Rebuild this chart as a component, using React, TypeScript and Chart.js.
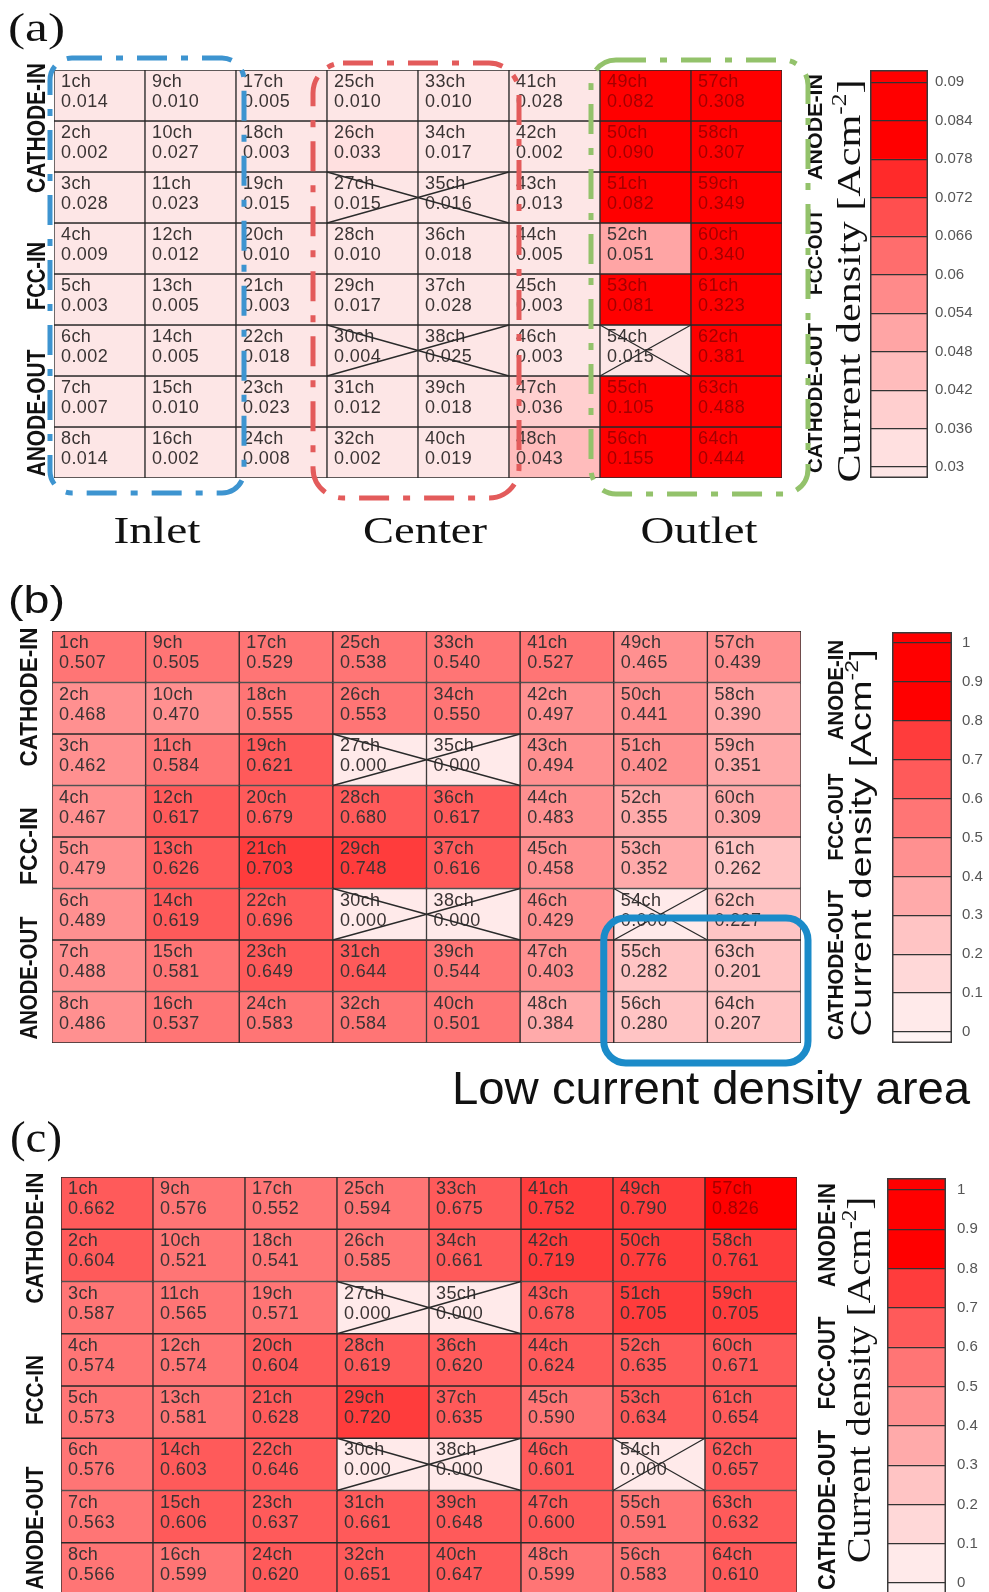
import React, { useEffect, useRef } from "react";
import { Chart, registerables } from "chart.js";

Chart.register(...registerables);

// ---------------- data ----------------
const columns = ["1-8ch", "9-16ch", "17-24ch", "25-32ch", "33-40ch", "41-48ch", "49-56ch", "57-64ch"];
const rowsPerColumn = 8;

// values in channel order 1ch..64ch
const valuesA = [
  0.014, 0.002, 0.028, 0.009, 0.003, 0.002, 0.007, 0.014,
  0.010, 0.027, 0.023, 0.012, 0.005, 0.005, 0.010, 0.002,
  0.005, 0.003, 0.015, 0.010, 0.003, 0.018, 0.023, 0.008,
  0.010, 0.033, 0.015, 0.010, 0.017, 0.004, 0.012, 0.002,
  0.010, 0.017, 0.016, 0.018, 0.028, 0.025, 0.018, 0.019,
  0.028, 0.002, 0.013, 0.005, 0.003, 0.003, 0.036, 0.043,
  0.082, 0.090, 0.082, 0.051, 0.081, 0.015, 0.105, 0.155,
  0.308, 0.307, 0.349, 0.340, 0.323, 0.381, 0.488, 0.444,
];
const valuesB = [
  0.507, 0.468, 0.462, 0.467, 0.479, 0.489, 0.488, 0.486,
  0.505, 0.470, 0.584, 0.617, 0.626, 0.619, 0.581, 0.537,
  0.529, 0.555, 0.621, 0.679, 0.703, 0.696, 0.649, 0.583,
  0.538, 0.553, 0.000, 0.680, 0.748, 0.000, 0.644, 0.584,
  0.540, 0.550, 0.000, 0.617, 0.616, 0.000, 0.544, 0.501,
  0.527, 0.497, 0.494, 0.483, 0.458, 0.429, 0.403, 0.384,
  0.465, 0.441, 0.402, 0.355, 0.352, 0.000, 0.282, 0.280,
  0.439, 0.390, 0.351, 0.309, 0.262, 0.227, 0.201, 0.207,
];
const valuesC = [
  0.662, 0.604, 0.587, 0.574, 0.573, 0.576, 0.563, 0.566,
  0.576, 0.521, 0.565, 0.574, 0.581, 0.603, 0.606, 0.599,
  0.552, 0.541, 0.571, 0.604, 0.628, 0.646, 0.637, 0.620,
  0.594, 0.585, 0.000, 0.619, 0.720, 0.000, 0.661, 0.651,
  0.675, 0.661, 0.000, 0.620, 0.635, 0.000, 0.648, 0.647,
  0.752, 0.719, 0.678, 0.624, 0.590, 0.601, 0.600, 0.599,
  0.790, 0.776, 0.705, 0.635, 0.634, 0.000, 0.591, 0.583,
  0.826, 0.761, 0.705, 0.671, 0.654, 0.657, 0.632, 0.610,
];
// channels that are crossed out (groups share one X)
const crossedChannels = [[27, 35], [30, 38], [54]];

// colour scales
const ticksA = [0.03, 0.036, 0.042, 0.048, 0.054, 0.06, 0.066, 0.072, 0.078, 0.084, 0.09];
const tickLabelsA = ["0.03", "0.036", "0.042", "0.048", "0.054", "0.06", "0.066", "0.072", "0.078", "0.084", "0.09"];
const rangeA = [0.0283, 0.0919];
const colorsA = ["#fde6e6", "#ffe0e0", "#ffcfcf", "#ffbcbc", "#ffa5a5", "#ff8a8a", "#ff6d6d", "#ff4f4f", "#ff2a2a", "#ff0000", "#ff0000", "#ff0000"];

const ticksBC = [0, 0.1, 0.2, 0.3, 0.4, 0.5, 0.6, 0.7, 0.8, 0.9, 1];
const tickLabelsBC = ["0", "0.1", "0.2", "0.3", "0.4", "0.5", "0.6", "0.7", "0.8", "0.9", "1"];
const rangeB = [-0.0283, 1.0283];
const rangeC = [-0.0305, 1.0305];
const colorsBC = ["#fff4f4", "#ffeaea", "#ffd8d8", "#ffc4c4", "#ffaaaa", "#ff9090", "#ff7575", "#ff5a5a", "#ff3c3c", "#ff0000", "#ff0000", "#ff0000"];

const leftLabels = ["CATHODE-IN", "FCC-IN", "ANODE-OUT"];
const rightLabels = ["ANODE-IN", "FCC-OUT", "CATHODE-OUT"];
const regionLabels = ["Inlet", "Center", "Outlet"];
const panelLetters = ["(a)", "(b)", "(c)"];
const titleParts = ["Current density [Acm", "-2", "]"];
const lowAreaLabel = "Low current density area";

// ---------------- helpers ----------------
const SANS = '"Liberation Sans", Arial, sans-serif';
const SERIF = '"Liberation Serif", "Times New Roman", serif';

function colorFor(v: number, ticks: number[], colors: string[]) {
  let i = 0;
  while (i < ticks.length && v >= ticks[i] - 1e-9) i++;
  return colors[i];
}

function drawStretched(ctx: any, text: string, x: number, baseline: number, width: number, font: string, color: string) {
  ctx.save();
  ctx.font = font;
  ctx.fillStyle = color;
  ctx.textAlign = "left";
  ctx.textBaseline = "alphabetic";
  const w = ctx.measureText(text).width;
  ctx.translate(x, baseline);
  ctx.scale(width / w, 1);
  ctx.fillText(text, 0, 0);
  ctx.restore();
}

function drawRotated(ctx: any, parts: { text: string; scale?: number; rise?: number }[], baseX: number, centerY: number, length: number, family: string, size: number, weight: string, color: string) {
  ctx.save();
  ctx.translate(baseX, centerY);
  ctx.rotate(-Math.PI / 2);
  ctx.fillStyle = color;
  ctx.textAlign = "left";
  ctx.textBaseline = "alphabetic";
  const fonts = parts.map((p) => `${weight} ${Math.round(size * (p.scale ?? 1))}px ${family}`);
  const widths = parts.map((p, i) => {
    ctx.font = fonts[i];
    return ctx.measureText(p.text).width;
  });
  const total = widths.reduce((a, b) => a + b, 0);
  ctx.scale(length / total, 1);
  let x = -total / 2;
  parts.forEach((p, i) => {
    ctx.font = fonts[i];
    ctx.fillText(p.text, x, -(p.rise ?? 0) * size);
    x += widths[i];
  });
  ctx.restore();
}

function roundRectPath(ctx: any, x0: number, y0: number, x1: number, y1: number, r: number) {
  ctx.beginPath();
  ctx.moveTo(x0 + r, y0);
  ctx.lineTo(x1 - r, y0);
  ctx.arcTo(x1, y0, x1, y0 + r, r);
  ctx.lineTo(x1, y1 - r);
  ctx.arcTo(x1, y1, x1 - r, y1, r);
  ctx.lineTo(x0 + r, y1);
  ctx.arcTo(x0, y1, x0, y1 - r, r);
  ctx.lineTo(x0, y0 + r);
  ctx.arcTo(x0, y0, x0 + r, y0, r);
  ctx.closePath();
}

function strokeBox(ctx: any, x0: number, y0: number, x1: number, y1: number, r: number, color: string, lw: number, dash: number[]) {
  ctx.save();
  ctx.strokeStyle = color;
  ctx.lineWidth = lw;
  ctx.setLineDash(dash);
  ctx.lineCap = "butt";
  roundRectPath(ctx, x0, y0, x1, y1, r);
  ctx.stroke();
  ctx.restore();
}

function cellRect(chart: any, r: number, c: number) {
  const el = chart.getDatasetMeta(r).data[c];
  const p = el.getProps(["x", "y", "base", "width"], true);
  return { l: p.x - p.width / 2, r: p.x + p.width / 2, t: Math.min(p.y, p.base), b: Math.max(p.y, p.base) };
}

function sideLabels(ctx: any, top: number, s: any) {
  leftLabels.forEach((t, i) =>
    drawRotated(ctx, [{ text: t }], s.leftX, s.leftY[i] - top, s.leftLen[i], SANS, s.leftSize, "bold", "#111")
  );
  rightLabels.forEach((t, i) =>
    drawRotated(ctx, [{ text: t }], s.rightX, s.rightY[i] - top, s.rightLen[i], SANS, s.rightSize, "bold", "#111")
  );
}

// ---------------- panel layouts ----------------
const panels = [
  {
    key: "a",
    top: 0,
    height: 560,
    values: valuesA,
    ticks: ticksA,
    tickLabels: tickLabelsA,
    colors: colorsA,
    range: rangeA,
    grid: { l: 54, t: 70, r: 782, b: 478 },
    cb: { l: 870, t: 70, w: 58, h: 408, pad: 7 },
    decorate(ctx: any, chart: any) {
      const top = 0;
      drawStretched(ctx, panelLetters[0], 8, 41, 57, `40px ${SERIF}`, "#111");
      sideLabels(ctx, top, {
        leftX: 45, leftY: [128, 276, 413], leftLen: [130, 68, 127], leftSize: 26,
        rightX: 822, rightY: [127, 252, 398], rightLen: [106, 86, 150], rightSize: 20,
      });
      drawRotated(ctx, [{ text: titleParts[0] }, { text: titleParts[1], scale: 0.6, rise: 0.42 }, { text: titleParts[2] }], 860, 281, 403, SERIF, 33, "normal", "#111");
      const xs = [157, 425, 699];
      const ws = [87, 124, 117];
      regionLabels.forEach((t, i) => {
        drawStretched(ctx, t, xs[i] - ws[i] / 2, 543, ws[i], `38px ${SERIF}`, "#111");
      });
      const gt = cellRect(chart, 0, 0).t;
      const gb = cellRect(chart, rowsPerColumn - 1, 0).b;
      const dash = [30, 14, 7, 14];
      strokeBox(ctx, cellRect(chart, 0, 0).l - 4, gt - 12, cellRect(chart, 0, 2).l + 8, gb + 15, 22, "#3d94d0", 5, dash);
      strokeBox(ctx, cellRect(chart, 0, 3).l - 14, gt - 7, cellRect(chart, 0, 5).l + 10, gb + 20, 30, "#e35b5b", 5, dash);
      strokeBox(ctx, cellRect(chart, 0, 6).l - 9, gt - 10, cellRect(chart, 0, 7).r + 26, gb + 16, 25, "#93c26b", 5, dash);
    },
  },
  {
    key: "b",
    top: 560,
    height: 560,
    values: valuesB,
    ticks: ticksBC,
    tickLabels: tickLabelsBC,
    colors: colorsBC,
    range: rangeB,
    grid: { l: 52, t: 631, r: 801, b: 1043 },
    cb: { l: 892, t: 632, w: 60, h: 411, pad: 10 },
    decorate(ctx: any, chart: any) {
      const top = 560;
      drawStretched(ctx, panelLetters[1], 8, 613 - top, 57, `38px ${SANS}`, "#111");
      sideLabels(ctx, top, {
        leftX: 37, leftY: [697, 846, 978], leftLen: [139, 78, 123], leftSize: 24,
        rightX: 843, rightY: [690, 817, 965], rightLen: [100, 87, 150], rightSize: 22,
      });
      drawRotated(ctx, [{ text: titleParts[0] }, { text: titleParts[1], scale: 0.6, rise: 0.42 }, { text: titleParts[2] }], 871, 843 - top, 387, SANS, 30, "normal", "#111");
      const a = cellRect(chart, 6, 6);
      const b = cellRect(chart, 7, 7);
      strokeBox(ctx, a.l - 10, a.t - 22, b.r + 7, b.b + 20, 22, "#1b8bc9", 7, []);
      drawStretched(ctx, lowAreaLabel, 452, 1104 - top, 518, `47px ${SANS}`, "#111");
    },
  },
  {
    key: "c",
    top: 1100,
    height: 500,
    values: valuesC,
    ticks: ticksBC,
    tickLabels: tickLabelsBC,
    colors: colorsBC,
    range: rangeC,
    grid: { l: 61, t: 1177, r: 797, b: 1595 },
    cb: { l: 887, t: 1178, w: 59, h: 417, pad: 11 },
    decorate(ctx: any, chart: any) {
      const top = 1100;
      drawStretched(ctx, panelLetters[2], 10, 1152 - top, 52, `44px ${SERIF}`, "#111");
      sideLabels(ctx, top, {
        leftX: 43, leftY: [1238, 1390, 1528], leftLen: [131, 70, 123], leftSize: 23,
        rightX: 835, rightY: [1235, 1363, 1510], rightLen: [104, 93, 160], rightSize: 23,
      });
      drawRotated(ctx, [{ text: titleParts[0] }, { text: titleParts[1], scale: 0.6, rise: 0.42 }, { text: titleParts[2] }], 870, 1380 - top, 366, SERIF, 33, "normal", "#111");
      void chart;
    },
  },
];

const AXIS_W = 60;
const CB_MARGIN = 30;

function HeatPanel({ cfg }: { cfg: any }) {
  const gridRef = useRef<HTMLCanvasElement | null>(null);
  const barRef = useRef<HTMLCanvasElement | null>(null);

  useEffect(() => {
    const { values, ticks, colors, tickLabels, range } = cfg;
    const cellColor = (ch: number) => colorFor(values[ch - 1], ticks, colors);

    const datasets = Array.from({ length: rowsPerColumn }, (_, r) => ({
      label: `row ${r + 1}`,
      data: columns.map(() => 1),
      backgroundColor: columns.map((_, c) => cellColor(c * rowsPerColumn + r + 1)),
      borderColor: "#2a2a2a",
      borderWidth: 1,
      borderSkipped: false,
      barPercentage: 1,
      categoryPercentage: 1,
    }));

    const cellPlugin = {
      id: "cells" + cfg.key,
      afterDatasetsDraw(chart: any) {
        const ctx = chart.ctx;
        ctx.save();
        ctx.font = `18px ${SANS}`;
        (ctx as any).letterSpacing = "0.4px";
        ctx.textAlign = "left";
        ctx.textBaseline = "alphabetic";
        for (let c = 0; c < columns.length; c++) {
          for (let r = 0; r < rowsPerColumn; r++) {
            const ch = c * rowsPerColumn + r + 1;
            const rc = cellRect(chart, r, c);
            const col = cellColor(ch);
            ctx.fillStyle = col === "#ff0000" ? "#a40000" : "#3a3434";
            ctx.fillText(`${ch}ch`, rc.l + 7, rc.t + 17);
            ctx.fillText(values[ch - 1].toFixed(3), rc.l + 7, rc.t + 37);
          }
        }
        (ctx as any).letterSpacing = "0px";
        ctx.strokeStyle = "#2a2a2a";
        ctx.lineWidth = 1.3;
        crossedChannels.forEach((group) => {
          const rects = group.map((ch) => {
            const c = Math.floor((ch - 1) / rowsPerColumn);
            const r = (ch - 1) % rowsPerColumn;
            return cellRect(chart, r, c);
          });
          const l = Math.min(...rects.map((q) => q.l));
          const rr = Math.max(...rects.map((q) => q.r));
          const t = Math.min(...rects.map((q) => q.t));
          const b = Math.max(...rects.map((q) => q.b));
          ctx.beginPath();
          ctx.moveTo(l, t);
          ctx.lineTo(rr, b);
          ctx.moveTo(l, b);
          ctx.lineTo(rr, t);
          ctx.stroke();
        });
        ctx.restore();
      },
      afterDraw(chart: any) {
        cfg.decorate(chart.ctx, chart);
      },
    };

    const g = cfg.grid;
    const grid = new Chart(gridRef.current as HTMLCanvasElement, {
      type: "bar",
      data: { labels: columns, datasets: datasets as any },
      options: {
        responsive: false,
        animation: false,
        devicePixelRatio: 1,
        layout: { padding: { left: g.l, top: g.t - cfg.top, right: 989 - g.r, bottom: cfg.top + cfg.height - g.b } },
        plugins: { legend: { display: false }, tooltip: { enabled: false } },
        scales: {
          x: { display: false, stacked: true },
          y: { display: false, stacked: true, reverse: true, min: 0, max: rowsPerColumn },
        },
      } as any,
      plugins: [cellPlugin],
    });

    const bandDatasets = colors.map((color: string, k: number) => ({
      label: `band ${k}`,
      data: [[k === 0 ? range[0] : ticks[k - 1], k === colors.length - 1 ? range[1] : ticks[k]]],
      backgroundColor: color,
      borderWidth: 0,
      grouped: false,
      barPercentage: 1,
      categoryPercentage: 1,
    }));

    const outlinePlugin = {
      id: "outline" + cfg.key,
      afterDraw(chart: any) {
        const { left, top, right, bottom } = chart.chartArea;
        const ctx = chart.ctx;
        ctx.save();
        ctx.strokeStyle = "#3a3a3a";
        ctx.lineWidth = 1.5;
        ctx.strokeRect(left + 0.75, top + 0.75, right - left - 1.5, bottom - top - 1.5);
        ctx.restore();
      },
    };

    const bar = new Chart(barRef.current as HTMLCanvasElement, {
      type: "bar",
      data: { labels: ["scale"], datasets: bandDatasets as any },
      options: {
        responsive: false,
        animation: false,
        devicePixelRatio: 1,
        layout: { padding: { left: 0, right: 0, top: CB_MARGIN, bottom: CB_MARGIN } },
        plugins: { legend: { display: false }, tooltip: { enabled: false } },
        scales: {
          x: { display: false },
          y: {
            position: "right",
            min: range[0],
            max: range[1],
            afterBuildTicks: (s: any) => {
              s.ticks = ticks.map((v: number) => ({ value: v }));
            },
            afterFit: (s: any) => {
              s.width = AXIS_W;
            },
            grid: { drawOnChartArea: true, drawTicks: false, color: "#333", lineWidth: 1.2, z: 1 },
            border: { display: false },
            ticks: {
              padding: cfg.cb.pad,
              autoSkip: false,
              color: "#555",
              font: { size: 15, family: SANS },
              callback: (_v: any, i: number) => tickLabels[i],
            },
          },
        },
      } as any,
      plugins: [outlinePlugin],
    });

    return () => {
      grid.destroy();
      bar.destroy();
    };
  }, [cfg]);

  return (
    <>
      <canvas
        ref={gridRef}
        width={989}
        height={cfg.height}
        style={{ position: "absolute", left: 0, top: cfg.top, width: 989, height: cfg.height }}
      />
      <canvas
        ref={barRef}
        width={cfg.cb.w + AXIS_W}
        height={cfg.cb.h + 2 * CB_MARGIN}
        style={{
          position: "absolute",
          left: cfg.cb.l,
          top: cfg.cb.t - CB_MARGIN,
          width: cfg.cb.w + AXIS_W,
          height: cfg.cb.h + 2 * CB_MARGIN,
        }}
      />
    </>
  );
}

export default function App() {
  return (
    <div
      style={{
        position: "absolute",
        left: 0,
        top: 0,
        width: 989,
        height: 1592,
        overflow: "hidden",
        background: "#ffffff",
      }}
    >
      {panels.map((p) => (
        <HeatPanel key={p.key} cfg={p} />
      ))}
    </div>
  );
}
